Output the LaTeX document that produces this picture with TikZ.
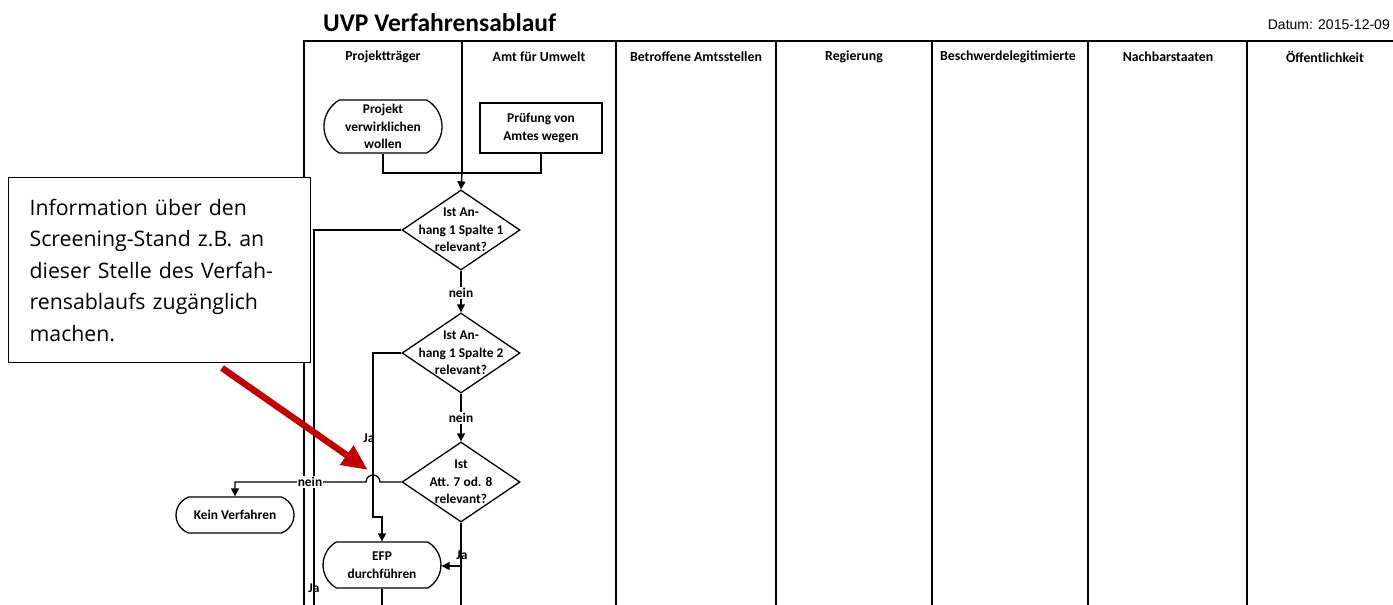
\documentclass[tikz,border=0pt]{standalone}
\usepackage{fontspec}
\setmainfont{Carlito}
\newfontfamily\calloutfont{Open Sans}
\newfontfamily\datefont{Liberation Sans}
\usetikzlibrary{shapes.geometric,shapes.misc,arrows.meta,calc}
\definecolor{arrowred}{RGB}{192,0,0}
\begin{document}
\begin{tikzpicture}[x=1pt,y=-1pt,
  lane/.style={line width=1.6pt,line cap=rect},
  flow/.style={line width=1.3pt},
  arr/.style={flow,-{Triangle[length=8pt,width=8pt]}},
  ftext/.style={font=\bfseries\fontsize{13.4}{17.5}\selectfont,align=center,inner sep=1pt},
  head/.style={font=\bfseries\fontsize{13.8}{16}\selectfont,inner sep=0pt},
  term/.style={ftext,draw,line width=1.3pt,rounded rectangle,rounded rectangle arc length=120,minimum width=120pt},
  proc/.style={ftext,draw,line width=1.3pt,rectangle,minimum width=122pt,minimum height=50pt},
  dia/.style={draw,line width=1.3pt,diamond,inner sep=0pt,minimum width=118pt,minimum height=80pt},
  lbl/.style={font=\bfseries\fontsize{13.4}{15}\selectfont,inner sep=1pt},
]
\useasboundingbox (0,0) rectangle (1393,605);

% title and date
\node[font=\fontsize{25.5}{28}\selectfont\bfseries,anchor=base west,inner sep=0pt] (title) at (323,31) {UVP Verfahrensablauf};
\node[font=\datefont\fontsize{14}{16}\selectfont,anchor=base east,inner sep=0pt] (datum) at (1390,30) {Datum: 2015-12-09};

% swimlanes
\draw[lane] (304,41) -- (1393,41);
\draw[lane] (304,41) -- (304,605);
\draw[lane] (462,41) -- (462,173);
\foreach \x in {616,776,932,1088,1247} \draw[lane] (\x,41) -- (\x,605);

\node[head] (h1) at (383,57) {Projektträger};
\node[head] (h2) at (539,57) {Amt für Umwelt};
\node[head] (h3) at (696,57) {Betroffene Amtsstellen};
\node[head] (h4) at (854,57) {Regierung};
\node[head] (h5) at (1008,57) {Beschwerdelegitimierte};
\node[head] (h6) at (1168,57) {Nachbarstaaten};
\node[head] (h7) at (1325,57) {Öffentlichkeit};

% flow nodes
\node[term,minimum height=53pt] (proj) at (383,126.5) {Projekt\\verwirklichen\\wollen};
\node[proc] (pruef) at (541,128) {Prüfung von\\Amtes wegen};

\node[dia] (d1) at (461,230) {};
\node[ftext] (t1) at (d1) {Ist An-\\hang 1 Spalte 1\\relevant?};
\node[dia] (d2) at (461,353) {};
\node[ftext] (t2) at (d2) {Ist An-\\hang 1 Spalte 2\\relevant?};
\node[dia] (d3) at (461,482) {};
\node[ftext] (t3) at (d3) {Ist\\Att. 7 od. 8\\relevant?};

\node[term,minimum height=36pt,rounded rectangle arc length=140] (kein) at (235,515) {Kein Verfahren};
\node[term,minimum height=46pt] (efp) at (382,565) {EFP\\durchführen};

% junctions
\coordinate (j1) at (462,173);
\coordinate (d1end) at (314,605);
\coordinate (bend2) at (373,517);
\coordinate (hopR) at (380,482);
\coordinate (d3end) at (461,605);
\coordinate (j3) at (461,566);
\coordinate (efpend) at (382,605);

% connectors
\draw[flow] (proj.south) |- (j1);
\draw[flow] (pruef.south) |- (j1);
\draw[arr] (j1) -- (d1.north);

\draw[flow] (d1.west) -| (d1end);
\draw[arr] (d1.south) -- (d2.north);
\draw[arr] (d2.south) -- (d3.north);

\draw[arr] (d2.west) -| (bend2) -| (efp.north);

\draw[arr] (d3.west) -- (hopR) arc[start angle=0,end angle=-180,radius=7] -- (kein.north |- d3.west) -- (kein.north);

\draw[flow] (d3.south) -- (d3end);
\draw[arr] (j3) -- (efp.east |- j3);
\draw[flow] (efp.south) -- (efpend);

% labels
\node[lbl,fill=white] (n1) at (461,293) {nein};
\node[lbl,fill=white] (n2) at (461,418) {nein};
\node[lbl,fill=white] (n3) at (310,482) {nein};
\node[lbl] (ja1) at (314,588) {Ja};
\node[lbl] (ja2) at (369,438) {Ja};
\node[lbl] (ja3) at (462,555) {Ja};

% callout
\node[draw,line width=1.2pt,fill=white,anchor=north west,minimum width=302pt,minimum height=185pt,
      text width=260pt,inner xsep=21pt,align=left,
      font=\calloutfont\fontsize{21.3}{31.5}\selectfont] (callout) at (8,177)
  {Information über den\\Screening-Stand z.B. an\\dieser Stelle des Verfah-\\rensablaufs zugänglich\\machen.};

% red arrow
\coordinate (rs) at (222,368);
\coordinate (rt) at (368,470);
\draw[arrowred,line width=6.5pt,-{Triangle[length=26pt,width=22pt]}] (rs) -- (rt);
\end{tikzpicture}
\end{document}
